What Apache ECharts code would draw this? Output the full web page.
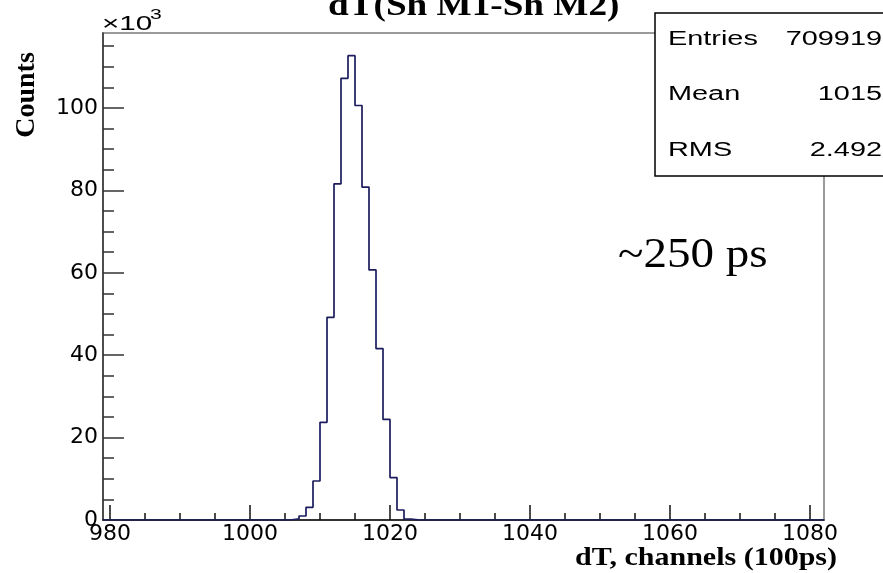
<!DOCTYPE html>
<html>
<head>
<meta charset="utf-8">
<script src="https://cdn.jsdelivr.net/npm/echarts@6/dist/echarts.min.js"></script>
<style>
  html, body { margin: 0; padding: 0; background: #fff; }
  #chart { width: 883px; height: 573px; }
</style>
</head>
<body>
<div id="chart"></div>
<script>
// Histogram of time differences, one-channel bins (low edge of each bin)
const binLow = [1005, 1006, 1007, 1008, 1009, 1010, 1011, 1012, 1013, 1014,
                1015, 1016, 1017, 1018, 1019, 1020, 1021, 1022, 1023];
const binCounts = [60, 300, 970, 3080, 9470, 23700, 49200, 81600, 107200, 112700,
                   100600, 80800, 60700, 41600, 24400, 10300, 2430, 240, 20];

// Axis ranges and tick marks
const xMin = 979, xMax = 1082;
const xMajorTicks = [980, 1000, 1020, 1040, 1060, 1080];
const xMinorTicks = [985, 990, 995, 1005, 1010, 1015, 1025, 1030, 1035, 1045,
                     1050, 1055, 1065, 1070, 1075];
const yMax = 118200;
const yMajorTicks = [0, 20000, 40000, 60000, 80000, 100000];
const yMinorTicks = [5000, 10000, 15000, 25000, 30000, 35000, 45000, 50000, 55000,
                     65000, 70000, 75000, 85000, 90000, 95000, 105000, 110000, 115000];

// Statistics panel
const statsNames = ['Entries', 'Mean', 'RMS'];
const statsValues = ['709919', '1015', '2.492'];

const titleText = 'dT(Sh M1-Sh M2)';
const xTitle = 'dT, channels (100ps)';
const yTitle = 'Counts';
const noteText = '~250 ps';

// Step outline: flat at zero, then each bin as a horizontal run
const histData = [[xMin, 0]]
  .concat(binLow.map((e, i) => [e, binCounts[i]]))
  .concat([[binLow[binLow.length - 1] + 1, 0], [xMax, 0]]);

const chart = echarts.init(document.getElementById('chart'), null, { renderer: 'canvas' });

function txt(text, x, yMid, o) {
  return {
    type: 'text', x: x, y: yMid, z: 110,
    scaleX: o.scaleX || 1, rotation: o.rotation || 0,
    style: {
      text: text, fill: '#000',
      fontSize: o.size, fontFamily: o.family || 'Liberation Sans',
      fontWeight: o.weight || 'normal',
      align: o.align || 'left', verticalAlign: 'middle'
    }
  };
}

const graphics = [
  // statistics box
  { type: 'rect', z: 100, shape: { x: 655, y: 13, width: 240, height: 163 },
    style: { fill: '#fff', stroke: '#000', lineWidth: 1.5 } },
  txt(titleText, 328, 7, { size: 31, family: 'Liberation Serif', weight: 'bold', scaleX: 1.2 }),
  txt(xTitle, 837, 558.5, { size: 25, family: 'Liberation Serif', weight: 'bold', scaleX: 1.2, align: 'right' }),
  txt(yTitle, 27, 95, { size: 28, family: 'Liberation Serif', weight: 'bold', align: 'center', rotation: Math.PI / 2 }),
  txt(noteText, 618, 256, { size: 42, family: 'Liberation Serif', scaleX: 1.12 }),
  txt('\u00d710', 102, 24, { size: 21, scaleX: 1.41 }),
  txt('3', 150, 15, { size: 15, scaleX: 1.41 })
];
const statsMid = [40, 95, 151];
statsNames.forEach((n, i) => {
  graphics.push(txt(n, 668, statsMid[i], { size: 19.5, scaleX: 1.48 }));
  graphics.push(txt(statsValues[i], 882, statsMid[i], { size: 19.5, scaleX: 1.48, align: 'right' }));
});

const labelFont = { fontFamily: 'DejaVu Sans', fontSize: 22, color: '#000' };

chart.setOption({
  animation: false,
  backgroundColor: '#fff',
  grid: {
    left: 103, right: 59, top: 33, bottom: 53,
    show: true, borderColor: '#7a7a7a', borderWidth: 1.5, backgroundColor: 'transparent'
  },
  xAxis: [
    {
      type: 'value', min: xMin, max: xMax, position: 'bottom',
      axisLine: { show: true, lineStyle: { color: '#111', width: 1.5 } },
      axisTick: { show: true, inside: true, length: 15, customValues: xMajorTicks,
                  lineStyle: { color: '#111', width: 1.5 } },
      axisLabel: Object.assign({ show: true, margin: 3, customValues: xMajorTicks,
                                 formatter: v => String(v) }, labelFont),
      splitLine: { show: false }
    },
    {
      type: 'value', min: xMin, max: xMax, position: 'bottom', gridIndex: 0,
      axisLine: { show: false },
      axisTick: { show: true, inside: true, length: 7, customValues: xMinorTicks,
                  lineStyle: { color: '#111', width: 1.5 } },
      axisLabel: { show: false, customValues: xMinorTicks },
      splitLine: { show: false }
    }
  ],
  yAxis: [
    {
      type: 'value', min: 0, max: yMax, interval: 20000, position: 'left',
      axisLine: { show: true, lineStyle: { color: '#333', width: 1.5 } },
      axisTick: { show: true, inside: true, length: 21, customValues: yMajorTicks,
                  lineStyle: { color: '#333', width: 1.5 } },
      axisLabel: Object.assign({ show: true, margin: 5, customValues: yMajorTicks,
                                 formatter: v => String(v / 1000) }, labelFont),
      splitLine: { show: false }
    },
    {
      type: 'value', min: 0, max: yMax, position: 'left', gridIndex: 0,
      axisLine: { show: false },
      axisTick: { show: true, inside: true, length: 11, customValues: yMinorTicks,
                  lineStyle: { color: '#333', width: 1.5 } },
      axisLabel: { show: false, customValues: yMinorTicks },
      splitLine: { show: false }
    }
  ],
  series: [
    {
      type: 'line', step: 'end', xAxisIndex: 0, yAxisIndex: 0,
      data: histData, symbol: 'none', clip: true, z: 5,
      lineStyle: { color: '#1c1c5e', width: 1.7 }
    }
  ],
  graphic: graphics
});
</script>
</body>
</html>
